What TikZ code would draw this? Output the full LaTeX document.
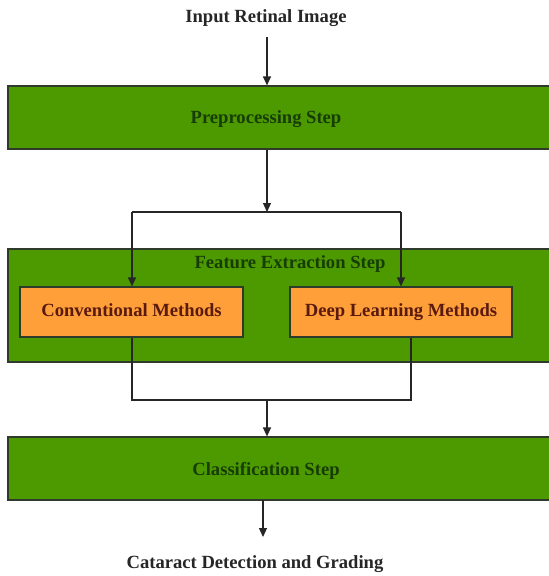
\documentclass[tikz,border=0pt]{standalone}
\usepackage{fontspec}
\setmainfont{Liberation Serif}
\usetikzlibrary{arrows.meta}
\definecolor{stepgreen}{HTML}{4C9A00}
\definecolor{steptext}{HTML}{173D05}
\definecolor{methorange}{HTML}{FF9F3A}
\definecolor{methtext}{HTML}{5A1A0E}
\definecolor{edgegray}{HTML}{2F3A2A}
\tikzset{
  greenbox/.style={draw=edgegray, line width=1.2pt, fill=stepgreen, rectangle, inner sep=0pt},
  greentext/.style={text=steptext, font=\fontsize{18.6}{22}\selectfont\bfseries, inner sep=0pt,
     text height=13pt, text depth=4pt},
  orangebox/.style={draw=edgegray, line width=1.2pt, fill=methorange, rectangle, inner sep=0pt,
     minimum height=50pt, text=methtext, font=\fontsize{18.6}{22}\selectfont\bfseries,
     text height=13pt, text depth=4pt},
  plaintext/.style={text=black!85, font=\fontsize{18.6}{22}\selectfont\bfseries, inner sep=0pt,
     text height=13pt, text depth=4pt},
  conn/.style={draw=black!85, line width=1.2pt},
  arr/.style={conn, -{Triangle[length=9pt,width=8pt]}},
}
\begin{document}
\begin{tikzpicture}[x=1pt,y=-1pt]
\useasboundingbox[fill=white] (0,0) rectangle (549,576);
% top input
\node[plaintext] (inp) at (266,18) {Input Retinal Image};
% preprocessing
\node[greenbox, minimum width=552pt, minimum height=63pt] (pre) at (284,117.5) {};
\node[greentext] (pretext) at (266,119) {Preprocessing Step};
% feature extraction
\node[greenbox, minimum width=552pt, minimum height=113pt] (feat) at (284,305.5) {};
\node[greentext] (feattext) at (290,264) {Feature Extraction Step};
\node[orangebox, minimum width=223pt] (conv) at (131.5,312) {Conventional Methods};
\node[orangebox, minimum width=222pt] (deep) at (401,312) {Deep Learning Methods};
% classification
\node[greenbox, minimum width=552pt, minimum height=63pt] (cls) at (284,468.5) {};
\node[greentext] (clstext) at (266,471) {Classification Step};
% output
\node[plaintext] (out) at (255,564) {Cataract Detection and Grading};

% coordinates
\coordinate (ja) at (267,212);
\coordinate (jl) at (132,212);
\coordinate (jr) at (401,212);
\coordinate (ml) at (132,400);
\coordinate (mr) at (411,400);
\coordinate (mm) at (267,400);
\coordinate (topa) at (267,37);
\coordinate (bota) at (263,500);
\coordinate (botb) at (263,537);

% connectors
\draw[arr] (topa) -- (topa |- pre.north);
\draw[arr] (pre.south -| ja) -- (ja);
\draw[conn] (jl) -- (jr);
\draw[arr] (jl) -- (conv.north -| jl);
\draw[arr] (jr) -- (deep.north -| jr);
\draw[conn] (conv.south -| ml) -- (ml) -- (mr) -- (deep.south -| mr);
\draw[arr] (mm) -- (cls.north -| mm);
\draw[arr] (bota) -- (botb);
\end{tikzpicture}
\end{document}
